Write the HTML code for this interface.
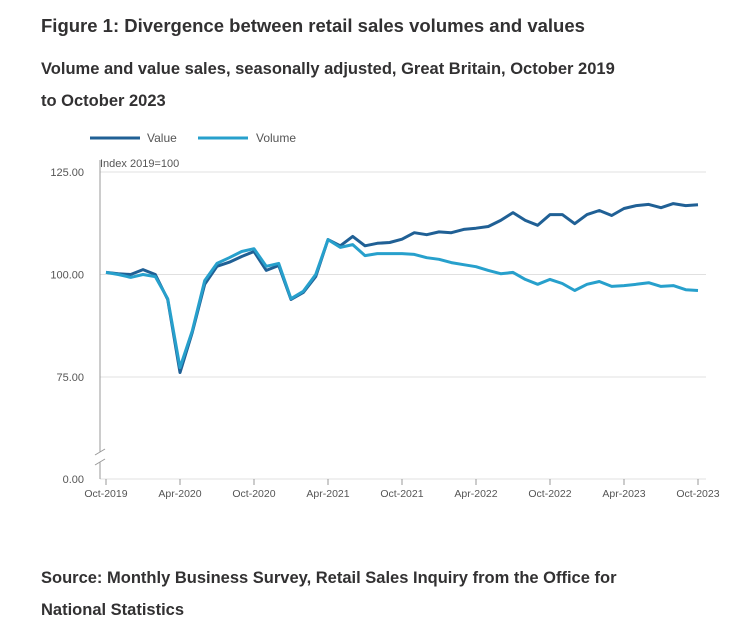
<!DOCTYPE html>
<html><head><meta charset="utf-8"><style>
body{margin:0;background:#fff;font-family:"Liberation Sans",sans-serif;color:#323132}
.t{position:absolute;left:41px;font-weight:bold}
</style></head><body>
<div style="position:relative;width:752px;height:629px;overflow:hidden">
<div class="t" style="top:15px;font-size:18.5px">Figure 1: Divergence between retail sales volumes and values</div>
<div class="t" style="top:53px;font-size:16.5px;line-height:32px;width:588px">Volume and value sales, seasonally adjusted, Great Britain, October 2019 to October 2023</div>
<div class="t" style="top:562px;font-size:16.5px;line-height:32px;width:600px">Source: Monthly Business Survey, Retail Sales Inquiry from the Office for National Statistics</div>
<svg id="c" width="752" height="629" style="position:absolute;left:0;top:0" font-family="Liberation Sans, sans-serif" font-size="11" fill="#555"></svg>
</div>
<script>
const months=["Oct-2019","Apr-2020","Oct-2020","Apr-2021","Oct-2021","Apr-2022","Oct-2022","Apr-2023","Oct-2023"];
const yTicks=[0,75,100,125];
const valueSeries=[100.5,100.2,100,101.2,100,93.9,76.1,85.9,97.6,102,103,104.4,105.6,101,102.2,93.9,95.6,99.5,108.5,107,109.3,107,107.6,107.8,108.6,110.2,109.7,110.4,110.2,111,111.3,111.7,113.2,115.1,113.2,112,114.6,114.6,112.4,114.6,115.6,114.4,116.1,116.8,117.1,116.3,117.3,116.8,117];
const volumeSeries=[100.5,100,99.3,100,99.5,94.1,77.3,86.3,98.5,102.7,104.1,105.6,106.3,102,102.7,94.1,95.9,100,108.5,106.6,107.3,104.6,105.1,105.1,105.1,104.9,104.1,103.7,102.9,102.4,101.9,101,100.2,100.5,98.8,97.6,98.8,97.8,96.1,97.6,98.3,97.1,97.3,97.6,98,97.1,97.3,96.3,96.1];
const svg=document.getElementById('c');const NS='http://www.w3.org/2000/svg';
function mk(t,a,p){const e=document.createElementNS(NS,t);for(const k in a)e.setAttribute(k,a[k]);(p||svg).appendChild(e);return e;}
const X=i=>106+i*(592/48);
const Y=v=>v===0?479:172+(125-v)*4.1;
yTicks.forEach(v=>{const g=mk('line',{x1:100,x2:706,y1:Y(v),y2:Y(v),stroke:'#e0e0e0'});


const t=mk('text',{x:84,y:Y(v)+4,'text-anchor':'end'});t.textContent=v.toFixed(2);

});
const ax=mk('path',{d:'M100,160V452M100,462V479',stroke:'#999',fill:'none'});


mk('path',{d:'M95,455L105,449M95,465L105,459',stroke:'#999',fill:'none'});
const yt=mk('text',{x:100,y:167});yt.textContent='Index 2019=100';


months.forEach((m,k)=>{const x=X(k*6);mk('line',{x1:x,x2:x,y1:479,y2:485,stroke:'#999'});
const t=mk('text',{x:x,y:497,'text-anchor':'middle',"font-size":"10.5"});t.textContent=m;

});
function line(d,c,n){const p=mk('path',{d:d.map((v,i)=>(i?'L':'M')+X(i).toFixed(1)+','+Y(v).toFixed(1)).join(''),stroke:c,'stroke-width':3,fill:'none','stroke-linejoin':'round'});

}
line(valueSeries,'#206095','value-line');
line(volumeSeries,'#27a0cc','volume-line');
[['Value','#206095',90,147],['Volume','#27a0cc',198,256]].forEach(([n,c,x,tx])=>{
const g=mk('g',{});

mk('line',{x1:x,x2:x+50,y1:138,y2:138,stroke:c,'stroke-width':3},g);
const t=mk('text',{x:tx,y:142,'font-size':12},g);t.textContent=n;});
</script>
</body></html>
